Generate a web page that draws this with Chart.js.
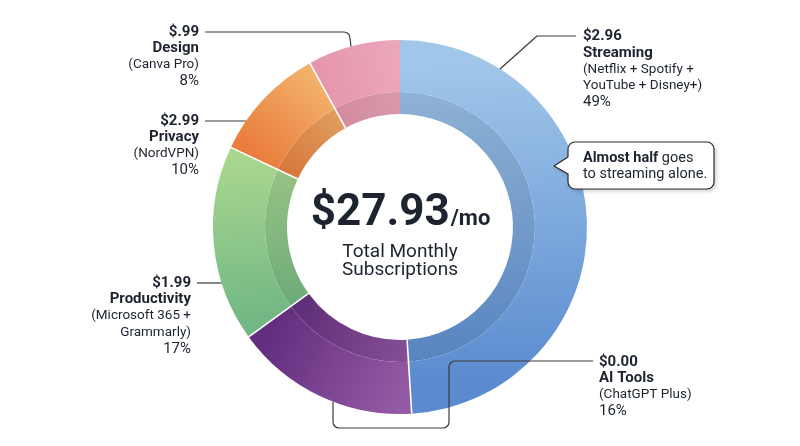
<!DOCTYPE html>
<html>
<head>
<meta charset="utf-8">
<script src="https://cdn.jsdelivr.net/npm/chart.js@4.4.1/dist/chart.umd.min.js"></script>
<style>
    html, body { margin: 0; padding: 0; background: #ffffff; }
    #wrap { position: relative; width: 800px; height: 446px; }
</style>
</head>
<body>
<div id="wrap"><canvas id="subs-chart" width="800" height="446"></canvas></div>
<script>
// Data
const categories = ['Streaming', 'AI Tools', 'Productivity', 'Privacy', 'Design'];
const shares = [49, 16, 17, 10, 8];
const prices = ['$2.96', '$0.00', '$1.99', '$2.99', '$.99'];
const details = [
    ['(Netflix + Spotify +', 'YouTube + Disney+)'],
    ['(ChatGPT Plus)'],
    ['(Microsoft 365 +', 'Grammarly)'],
    ['(NordVPN)'],
    ['(Canva Pro)'],
];
const totalLabel = '$27.93';
const totalUnit = '/mo';
const totalCaption = ['Total Monthly', 'Subscriptions'];
const calloutBold = 'Almost half';
const calloutLines = [' goes', 'to streaming alone.'];

// Colors: gradient runs from the start of each slice to its end
const startColors = ['#a0c6e9', '#955aa5', '#72b784', '#ea7c3c', '#e596ad'];
const endColors = ['#5a8bcf', '#622d7e', '#a8d68f', '#f2b06a', '#eba7bb'];

const INK = '#1d2430';
const LEADER = '#3a3a3a';

const darken = (hex, f) => {
    const n = parseInt(hex.slice(1), 16);
    const r = Math.round(((n >> 16) & 255) * f);
    const g = Math.round(((n >> 8) & 255) * f);
    const b = Math.round((n & 255) * f);
    return `rgb(${r},${g},${b})`;
};

const sliceGradient = (chart, index, factor) => {
    const area = chart.chartArea;
    if (!area) return startColors[index];
    const cx = (area.left + area.right) / 2;
    const cy = (area.top + area.bottom) / 2;
    const r = Math.min(area.width, area.height) / 2 * 0.85;
    const total = shares.reduce((a, b) => a + b, 0);
    const before = shares.slice(0, index).reduce((a, b) => a + b, 0);
    const a0 = -Math.PI / 2 + before / total * Math.PI * 2;
    const a1 = a0 + shares[index] / total * Math.PI * 2;
    const g = chart.ctx.createLinearGradient(
        cx + r * Math.cos(a0), cy + r * Math.sin(a0),
        cx + r * Math.cos(a1), cy + r * Math.sin(a1),
    );
    g.addColorStop(0, darken(startColors[index], factor));
    g.addColorStop(1, darken(endColors[index], factor));
    return g;
};

// white separators across both rings
const separators = {
    id: 'separators',
    afterDatasetsDraw(chart) {
        const outer = chart.getDatasetMeta(0).data;
        const inner = chart.getDatasetMeta(1).data;
        const ctx = chart.ctx;
        ctx.save();
        ctx.strokeStyle = '#ffffff';
        ctx.lineWidth = 1.6;
        outer.forEach((arc, i) => {
            if (i === 0) return;
            const a = arc.startAngle;
            const r0 = inner[i].innerRadius;
            const r1 = arc.outerRadius;
            ctx.beginPath();
            ctx.moveTo(arc.x + r0 * Math.cos(a), arc.y + r0 * Math.sin(a));
            ctx.lineTo(arc.x + r1 * Math.cos(a), arc.y + r1 * Math.sin(a));
            ctx.stroke();
        });
        ctx.restore();
    },
};

const drawLabel = (ctx, i, x, y, align) => {
    ctx.textAlign = align;
    ctx.textBaseline = 'middle';
    ctx.fillStyle = INK;
    const step = 16.5;
    let yy = y;
    ctx.font = 'bold 15px Roboto';
    ctx.fillText(prices[i], x, yy); yy += step;
    ctx.fillText(categories[i], x, yy); yy += step;
    ctx.font = '13.5px Roboto';
    details[i].forEach((line) => { ctx.fillText(line, x, yy); yy += step; });
    ctx.font = '15px Roboto';
    ctx.fillText(shares[i] + '%', x, yy);
};

const annotations = {
    id: 'annotations',
    afterDraw(chart) {
        const ctx = chart.ctx;
        const arc = chart.getDatasetMeta(0).data[0];
        const cx = arc.x, cy = arc.y, R = arc.outerRadius;
        const arcX = (y, side) => cx + side * Math.sqrt(R * R - (y - cy) * (y - cy));
        const arcY = (x, side) => cy + side * Math.sqrt(R * R - (x - cx) * (x - cx));

        ctx.save();
        // leader lines
        ctx.strokeStyle = LEADER;
        ctx.lineWidth = 1.2;
        ctx.lineJoin = 'round';

        // Streaming
        ctx.beginPath();
        ctx.moveTo(576, 36);
        ctx.lineTo(537, 36);
        ctx.lineTo(500, arcY(500, -1));
        ctx.stroke();

        // Design
        ctx.beginPath();
        ctx.moveTo(205, 32);
        ctx.lineTo(344, 32);
        ctx.arcTo(350, 32, 350, 40, 6);
        ctx.lineTo(351, arcY(351, -1));
        ctx.stroke();

        // Privacy
        ctx.beginPath();
        ctx.moveTo(205, 121);
        ctx.lineTo(arcX(121, -1), 121);
        ctx.stroke();

        // Productivity
        ctx.beginPath();
        ctx.moveTo(197, 283);
        ctx.lineTo(arcX(283, -1), 283);
        ctx.stroke();

        // AI Tools bracket
        ctx.beginPath();
        ctx.moveTo(593, 361);
        ctx.arcTo(449, 361, 449, 428, 6);
        ctx.arcTo(449, 428, 333, 428, 6);
        ctx.arcTo(333, 428, 333, 400, 6);
        ctx.lineTo(333, arcY(333, 1));
        ctx.stroke();

        // labels
        drawLabel(ctx, 0, 583, 36.5, 'left');
        drawLabel(ctx, 1, 599, 362, 'left');
        drawLabel(ctx, 2, 191, 283, 'right');
        drawLabel(ctx, 3, 199, 121, 'right');
        drawLabel(ctx, 4, 199, 32, 'right');

        // center total
        ctx.fillStyle = INK;
        ctx.textBaseline = 'alphabetic';
        ctx.font = 'bold 44px Roboto';
        const wBig = ctx.measureText(totalLabel).width;
        ctx.font = 'bold 22px Roboto';
        const wUnit = ctx.measureText(totalUnit).width;
        const x0 = cx - (wBig + wUnit) / 2;
        ctx.textAlign = 'left';
        ctx.font = 'bold 44px Roboto';
        ctx.fillText(totalLabel, x0, 225);
        ctx.font = 'bold 22px Roboto';
        ctx.fillText(totalUnit, x0 + wBig + 1, 225);
        ctx.textAlign = 'center';
        ctx.font = '19px Roboto';
        ctx.fillText(totalCaption[0], cx, 257);
        ctx.fillText(totalCaption[1], cx, 275);

        // callout box
        const bx = 568, by = 142, bw = 146, bh = 47, br = 7;
        ctx.beginPath();
        ctx.moveTo(bx + br, by);
        ctx.arcTo(bx + bw, by, bx + bw, by + bh, br);
        ctx.arcTo(bx + bw, by + bh, bx, by + bh, br);
        ctx.arcTo(bx, by + bh, bx, by, br);
        ctx.lineTo(bx, 174);
        ctx.lineTo(554, 166);
        ctx.lineTo(bx, 157);
        ctx.arcTo(bx, by, bx + bw, by, br);
        ctx.closePath();
        ctx.shadowColor = 'rgba(0,0,0,0.22)';
        ctx.shadowBlur = 4;
        ctx.shadowOffsetX = 2;
        ctx.shadowOffsetY = 2;
        ctx.fillStyle = '#ffffff';
        ctx.fill();
        ctx.shadowColor = 'transparent';
        ctx.strokeStyle = '#2a2a2a';
        ctx.lineWidth = 1.2;
        ctx.stroke();

        ctx.fillStyle = INK;
        ctx.textAlign = 'left';
        ctx.textBaseline = 'middle';
        ctx.font = 'bold 14.5px Roboto';
        ctx.fillText(calloutBold, 583, 158);
        const wb = ctx.measureText(calloutBold).width;
        ctx.font = '14.5px Roboto';
        ctx.fillText(calloutLines[0], 583 + wb, 158);
        ctx.fillText(calloutLines[1], 583, 174);
        ctx.restore();
    },
};

const canvas = document.getElementById('subs-chart');
new Chart(canvas, {
    type: 'doughnut',
    data: {
        labels: categories,
        datasets: [{
            data: shares,
            weight: 52,
            backgroundColor: (c) => sliceGradient(c.chart, c.dataIndex, 1),
            borderWidth: 0,
        }, {
            data: shares,
            weight: 22,
            backgroundColor: (c) => sliceGradient(c.chart, c.dataIndex, 0.92),
            borderWidth: 0,
        }],
    },
    options: {
        responsive: false,
        animation: false,
        cutout: '60.4%',
        layout: {
            padding: { top: 40, bottom: 32, left: 0, right: 0 },
        },
        plugins: {
            legend: { display: false },
            tooltip: { enabled: false },
        },
    },
    plugins: [separators, annotations],
});
</script>
</body>
</html>
